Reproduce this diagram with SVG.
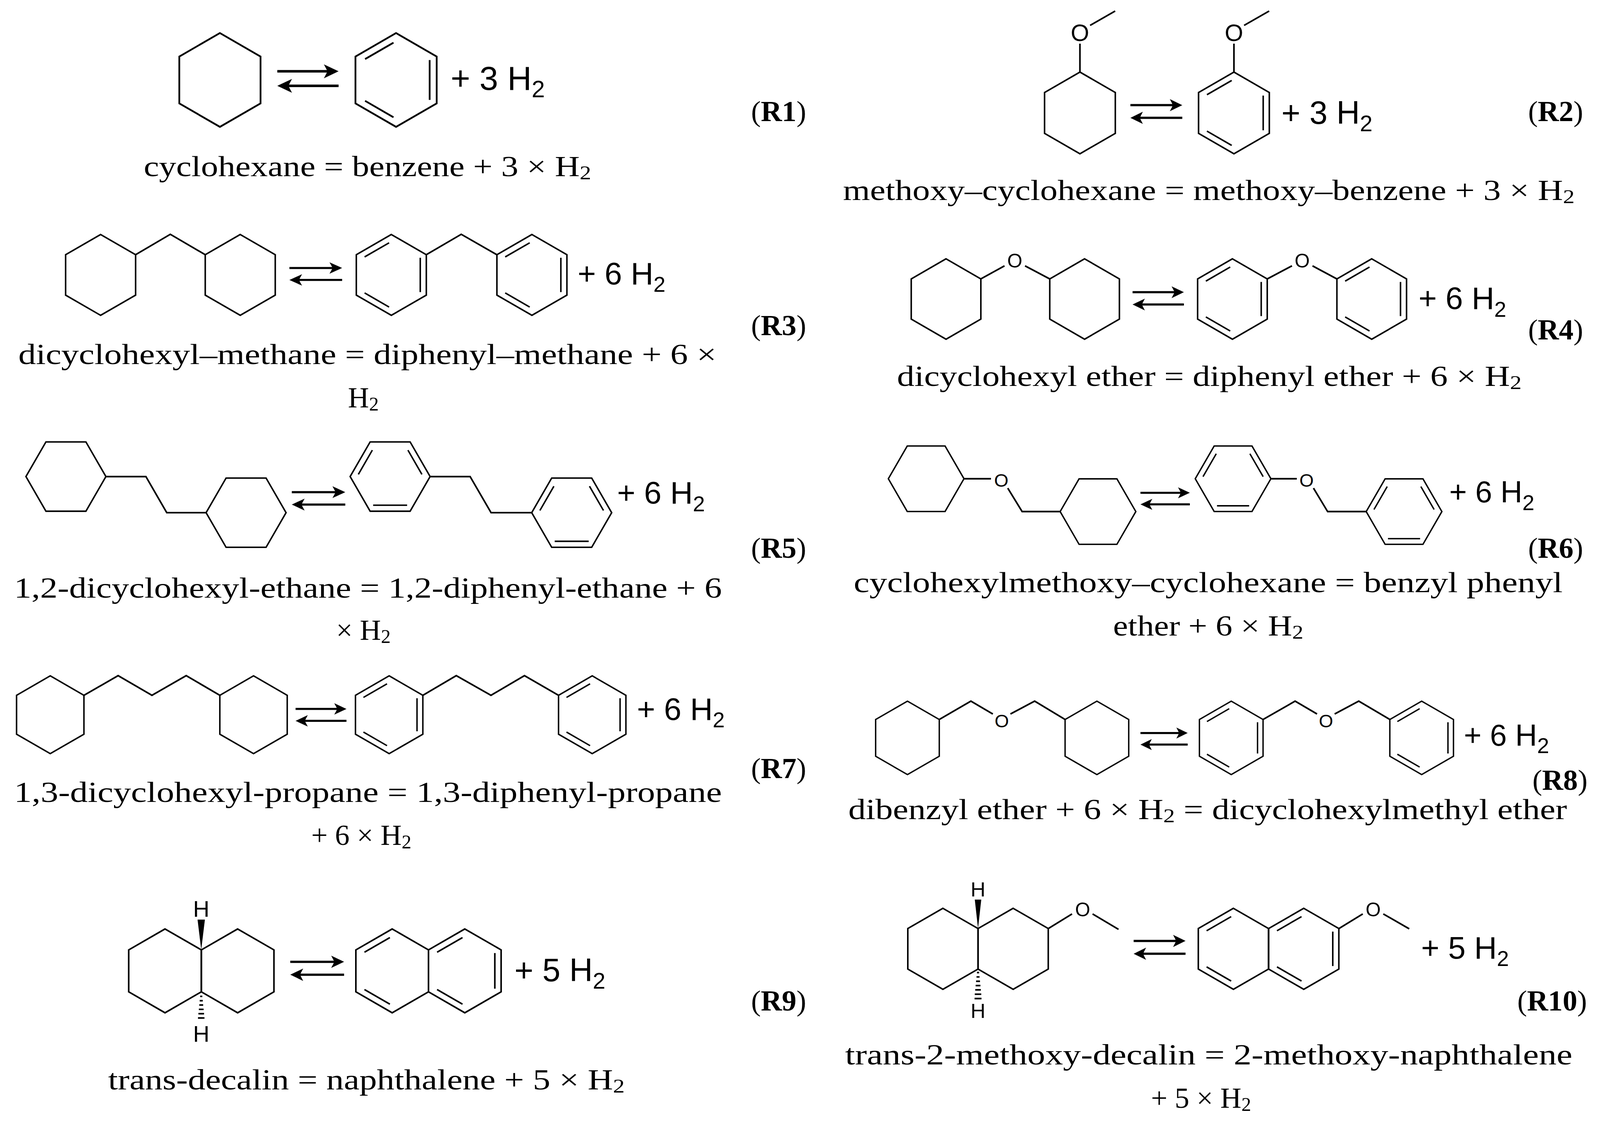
<svg xmlns="http://www.w3.org/2000/svg" width="4338" height="2898" viewBox="0 0 4338 2898">
<style>
.s{fill:none;stroke:#000;stroke-width:1.5;stroke-linejoin:miter}
.as{fill:none;stroke:#000;stroke-width:2}
.hd{fill:#000;stroke:none}
.p{font-family:"Liberation Sans",Arial,sans-serif;fill:#000}
.l{font-family:"Liberation Serif","Times New Roman",serif;font-size:27px;fill:#000}
.a{font-family:"Liberation Sans",Arial,sans-serif;fill:#000;text-anchor:middle}
</style>
<defs>
<path id="hp" d="M0,-40L34.64,-20L34.64,20L0,40L-34.64,20L-34.64,-20Z"/>
<path id="dbl" d="M-26.44,-17.8L-2.2,-31.8M-26.44,17.8L-2.2,31.8"/>
<path id="dbr" d="M28.64,-17L28.64,17"/>
<g id="bz"><use href="#hp"/><use href="#dbl"/><use href="#dbr"/></g>
<path id="hf" d="M-40,0L-20,-34.64L20,-34.64L40,0L20,34.64L-20,34.64Z"/>
<g id="bzf"><use href="#hf"/><path d="M-31.8,-2.2L-17.8,-26.44M31.8,-2.2L17.8,-26.44M-17,28.64L17,28.64"/></g>
<g id="eq"><path class="as" d="M0,0H44"/><path class="hd" d="M50,0L38,-5.5L41,0L38,5.5Z"/><path class="as" d="M6,11.5H50"/><path class="hd" d="M0,11.5L12,6L9,11.5L12,17Z"/></g>
</defs>
<rect width="4338" height="2898" fill="#fff"/>
<g transform="scale(2.76658)">

<g id="R1">
<g class="s"><use href="#hp" transform="translate(203.5,74) scale(1.085)"/><use href="#bz" transform="translate(366.5,74) scale(1.085)"/></g>
<use href="#eq" transform="translate(256.6,66) scale(1.134,1.17)"/>
<text class="p" x="417" y="83" font-size="31">+ 3 H<tspan font-size="22" dy="7">2</tspan></text>
<text class="l" x="133" y="163" textLength="414" lengthAdjust="spacingAndGlyphs">cyclohexane = benzene + 3 × H<tspan font-size="18" dy="3">2</tspan></text>
<text class="l" x="695" y="112">(<tspan font-weight="bold">R1</tspan>)</text>
</g>

<g id="R2">
<g class="s"><use href="#hp" transform="translate(999.3,104.5) scale(0.945)"/><use href="#bz" transform="translate(1141.8,104.5) scale(0.945)"/>
<path d="M999.3,66.7V40.4M1008.7,23.5L1031.9,10.2M1141.8,66.7V40.4M1151.2,23.5L1174.4,10.2"/></g>
<text class="a" x="999.3" y="38" font-size="22">O</text><text class="a" x="1141.8" y="38" font-size="22">O</text>
<use href="#eq" transform="translate(1046,97.3) scale(0.96,1.02)"/>
<text class="p" x="1185.8" y="114.5" font-size="30">+ 3 H<tspan font-size="21" dy="7">2</tspan></text>
<text class="l" x="780" y="185" textLength="677" lengthAdjust="spacingAndGlyphs">methoxy–cyclohexane = methoxy–benzene + 3 × H<tspan font-size="18" dy="3">2</tspan></text>
<text class="l" x="1414" y="112">(<tspan font-weight="bold">R2</tspan>)</text>
</g>

<g id="R3">
<g class="s"><use href="#hp" transform="translate(93.1,254.4) scale(0.935)"/><use href="#hp" transform="translate(222.3,254.4) scale(0.935)"/>
<use href="#bz" transform="translate(362.1,254.4) scale(0.935)"/><use href="#bz" transform="translate(492.2,254.4) scale(0.935)"/>
<path d="M125.5,235.7L157.6,216.8L189.9,235.7M394.5,235.7L426.8,216.8L459.8,235.7"/></g>
<use href="#eq" transform="translate(267.8,248) scale(0.976,0.96)"/>
<text class="p" x="534.5" y="263" font-size="29">+ 6 H<tspan font-size="20" dy="7">2</tspan></text>
<text class="l" x="17" y="337" textLength="646" lengthAdjust="spacingAndGlyphs">dicyclohexyl–methane = diphenyl–methane + 6 ×</text>
<text class="l" x="322" y="377">H<tspan font-size="18" dy="3">2</tspan></text>
<text class="l" x="695" y="310">(<tspan font-weight="bold">R3</tspan>)</text>
</g>

<g id="R4">
<g class="s"><use href="#hp" transform="translate(875.4,276.7) scale(0.93)"/><use href="#hp" transform="translate(1003.6,276.7) scale(0.93)"/>
<use href="#bz" transform="translate(1140.4,276.7) scale(0.93)"/><use href="#bz" transform="translate(1269.3,276.7) scale(0.93)"/>
<path d="M907.6,258.1L929.5,246M948.5,246L971.4,258.1M1172.6,258.1L1195.5,246M1214.5,246L1237.1,258.1"/></g>
<text class="a" x="939" y="247.5" font-size="18">O</text><text class="a" x="1205" y="247.5" font-size="18">O</text>
<use href="#eq" transform="translate(1048,270.4) scale(0.95,0.99)"/>
<text class="p" x="1312.6" y="286" font-size="29">+ 6 H<tspan font-size="20" dy="7">2</tspan></text>
<text class="l" x="830" y="357" textLength="578" lengthAdjust="spacingAndGlyphs">dicyclohexyl ether = diphenyl ether + 6 × H<tspan font-size="18" dy="3">2</tspan></text>
<text class="l" x="1414" y="314">(<tspan font-weight="bold">R4</tspan>)</text>
</g>

<g id="R5">
<g class="s"><use href="#hf" transform="translate(61,441) scale(0.925)"/><use href="#hf" transform="translate(227.7,474.4) scale(0.925)"/>
<use href="#bzf" transform="translate(361,441) scale(0.925)"/><use href="#bzf" transform="translate(529,474.4) scale(0.925)"/>
<path d="M98,441H135L154.3,474.4H190.7M398,441H435L454.4,474.4H492"/></g>
<use href="#eq" transform="translate(270,455.4) scale(0.99,1)"/>
<text class="p" x="571" y="466" font-size="29">+ 6 H<tspan font-size="20" dy="7">2</tspan></text>
<text class="l" x="13" y="553" textLength="655" lengthAdjust="spacingAndGlyphs">1,2-dicyclohexyl-ethane = 1,2-diphenyl-ethane + 6</text>
<text class="l" x="311" y="592">× H<tspan font-size="18" dy="3">2</tspan></text>
<text class="l" x="695" y="516">(<tspan font-weight="bold">R5</tspan>)</text>
</g>

<g id="R6">
<g class="s"><use href="#hf" transform="translate(857,443) scale(0.875)"/><use href="#hf" transform="translate(1016,473.4) scale(0.875)"/>
<use href="#bzf" transform="translate(1141,443) scale(0.875)"/><use href="#bzf" transform="translate(1299.2,473.4) scale(0.875)"/>
<path d="M892,443H917M932.5,451.7L945.8,473.4H981M1176,443H1200M1215.4,451.7L1228.5,473.4H1264.2"/></g>
<text class="a" x="926.5" y="450.5" font-size="17">O</text><text class="a" x="1209" y="450.5" font-size="17">O</text>
<use href="#eq" transform="translate(1055.3,456) scale(0.914,0.93)"/>
<text class="p" x="1341" y="465" font-size="28">+ 6 H<tspan font-size="20" dy="7">2</tspan></text>
<text class="l" x="790" y="548" textLength="656" lengthAdjust="spacingAndGlyphs">cyclohexylmethoxy–cyclohexane = benzyl phenyl</text>
<text class="l" x="1030" y="588" textLength="176" lengthAdjust="spacingAndGlyphs">ether + 6 × H<tspan font-size="18" dy="3">2</tspan></text>
<text class="l" x="1414" y="516">(<tspan font-weight="bold">R6</tspan>)</text>
</g>

<g id="R7">
<g class="s"><use href="#hp" transform="translate(46.5,661.4) scale(0.9)"/><use href="#hp" transform="translate(234.6,661.4) scale(0.9)"/>
<use href="#bz" transform="translate(360.1,661.4) scale(0.9)"/><use href="#bz" transform="translate(548,661.4) scale(0.9)"/>
<path d="M77.7,643.4L109.3,625.2L140.6,643.4L172.3,625.2L203.4,643.4M391.3,643.4L422.2,625.2L454.3,643.4L485.3,625.2L516.8,643.4"/></g>
<use href="#eq" transform="translate(273.5,656) scale(0.942,0.96)"/>
<text class="p" x="589.4" y="666" font-size="29">+ 6 H<tspan font-size="20" dy="7">2</tspan></text>
<text class="l" x="13" y="742" textLength="655" lengthAdjust="spacingAndGlyphs">1,3-dicyclohexyl-propane = 1,3-diphenyl-propane</text>
<text class="l" x="288" y="782">+ 6 × H<tspan font-size="18" dy="3">2</tspan></text>
<text class="l" x="695" y="720">(<tspan font-weight="bold">R7</tspan>)</text>
</g>

<g id="R8">
<g class="s"><use href="#hp" transform="translate(839.7,682.8) scale(0.85)"/><use href="#hp" transform="translate(1015,682.8) scale(0.85)"/>
<use href="#bz" transform="translate(1139.3,682.8) scale(0.85)"/><use href="#bz" transform="translate(1315.5,682.8) scale(0.85)"/>
<path d="M869.1,665.8L898.4,648.8L918.7,660.7M935,660.7L957.4,648.8L985.6,665.8M1168.7,665.8L1198.4,648.8L1218.7,660.7M1235,660.7L1257.3,648.8L1286.1,665.8"/></g>
<text class="a" x="927" y="673" font-size="17">O</text><text class="a" x="1227" y="673" font-size="17">O</text>
<use href="#eq" transform="translate(1055.3,678.3) scale(0.874,0.93)"/>
<text class="p" x="1354.6" y="690" font-size="28">+ 6 H<tspan font-size="20" dy="7">2</tspan></text>
<text class="l" x="785" y="758" textLength="665" lengthAdjust="spacingAndGlyphs">dibenzyl ether + 6 × H<tspan font-size="18" dy="3">2</tspan><tspan dy="-3"> = dicyclohexylmethyl ether</tspan></text>
<text class="l" x="1418" y="731">(<tspan font-weight="bold">R8</tspan>)</text>
</g>

<g id="R9">
<g class="s"><use href="#hp" transform="translate(152.7,898.4) scale(0.97)"/><use href="#hp" transform="translate(219.9,898.4) scale(0.97)"/>
<use href="#hp" transform="translate(362.9,898.4) scale(0.97)"/><use href="#hp" transform="translate(430.1,898.4) scale(0.97)"/>
<use href="#dbl" transform="translate(362.9,898.4) scale(0.97)"/><use href="#dbl" transform="translate(430.1,898.4) scale(0.97)"/><use href="#dbr" transform="translate(430.1,898.4) scale(0.97)"/>
<path d="M185.2,922H187.2M184.8,926H187.6M184.4,930H188M184,934H188.4M183.6,938H188.8M183.2,942H189.2"/></g>
<path class="hd" d="M186.2,879L182.8,851H189.6Z"/>
<text class="a" x="186.2" y="848.5" font-size="21">H</text>
<text class="a" x="186.2" y="964" font-size="21">H</text>
<use href="#eq" transform="translate(268.6,890) scale(0.996,1.04)"/>
<text class="p" x="476" y="908" font-size="30">+ 5 H<tspan font-size="21" dy="7">2</tspan></text>
<text class="l" x="100" y="1008" textLength="478" lengthAdjust="spacingAndGlyphs">trans-decalin = naphthalene + 5 × H<tspan font-size="18" dy="3">2</tspan></text>
<text class="l" x="695" y="935">(<tspan font-weight="bold">R9</tspan>)</text>
</g>

<g id="R10">
<g class="s"><use href="#hp" transform="translate(872.5,878) scale(0.9375)"/><use href="#hp" transform="translate(937.5,878) scale(0.9375)"/>
<use href="#hp" transform="translate(1141.3,878) scale(0.9375)"/><use href="#hp" transform="translate(1206.4,878) scale(0.9375)"/>
<use href="#dbl" transform="translate(1141.3,878) scale(0.9375)"/><use href="#dbl" transform="translate(1206.4,878) scale(0.9375)"/><use href="#dbr" transform="translate(1206.4,878) scale(0.9375)"/>
<path d="M970,859.3L992,845.7M1011,845.7L1035,860M1238.9,859.3L1261,845.7M1280,845.7L1304,859.5"/>
<path d="M904,900H906M903.6,904H906.4M903.2,908H906.8M902.8,912H907.2M902.4,916H907.6M902,920H908M901.8,924H908.2"/></g>
<path class="hd" d="M905,859.3L902,832.4H908Z"/>
<text class="a" x="905" y="829.5" font-size="19">H</text>
<text class="a" x="905" y="942" font-size="19">H</text>
<text class="a" x="1001.8" y="848" font-size="18">O</text><text class="a" x="1270.7" y="848" font-size="18">O</text>
<use href="#eq" transform="translate(1049,870.7) scale(0.96,1.03)"/>
<text class="p" x="1315" y="887" font-size="29">+ 5 H<tspan font-size="20" dy="7">2</tspan></text>
<text class="l" x="782" y="985" textLength="673" lengthAdjust="spacingAndGlyphs">trans-2-methoxy-decalin = 2-methoxy-naphthalene</text>
<text class="l" x="1065" y="1025">+ 5 × H<tspan font-size="18" dy="3">2</tspan></text>
<text class="l" x="1404" y="935">(<tspan font-weight="bold">R10</tspan>)</text>
</g>

</g>
</svg>
